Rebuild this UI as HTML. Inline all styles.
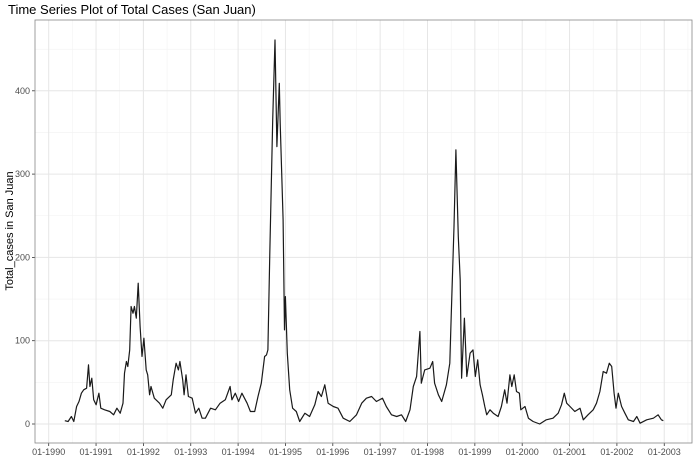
<!DOCTYPE html>
<html><head><meta charset="utf-8">
<style>
html,body{margin:0;padding:0;background:#fff;}
svg{display:block;font-family:"Liberation Sans",sans-serif;}
</style></head>
<body>
<svg id="chart" width="698" height="472" viewBox="0 0 698 472">
<text x="8" y="14" font-size="13" fill="#000">Time Series Plot of Total Cases (San Juan)</text>
<text transform="translate(13,231) rotate(-90)" text-anchor="middle" font-size="11" fill="#000">Total_cases in San Juan</text>
<g id="grid"></g>
<g id="axes"></g>
<path id="series" fill="none" stroke="#1a1a1a" stroke-width="1.2" stroke-linejoin="round"></path>
<rect x="35" y="20" width="657" height="423" fill="none" stroke="#888" stroke-width="0.8"></rect>
</svg>
<script>
const dates = [1990.34,1990.41,1990.48,1990.53,1990.59,1990.64,1990.69,1990.74,1990.8,1990.84,1990.87,1990.91,1990.95,1991.0,1991.06,1991.1,1991.18,1991.29,1991.37,1991.44,1991.51,1991.57,1991.6,1991.64,1991.67,1991.71,1991.74,1991.78,1991.81,1991.85,1991.89,1991.93,1991.97,1992.01,1992.06,1992.09,1992.13,1992.16,1992.23,1992.34,1992.41,1992.48,1992.59,1992.63,1992.69,1992.74,1992.77,1992.83,1992.86,1992.9,1992.95,1993.03,1993.1,1993.17,1993.24,1993.31,1993.42,1993.52,1993.62,1993.73,1993.83,1993.87,1993.94,1994.01,1994.08,1994.19,1994.26,1994.35,1994.42,1994.49,1994.56,1994.6,1994.63,1994.67,1994.73,1994.78,1994.82,1994.87,1994.89,1994.95,1994.98,1995.0,1995.04,1995.09,1995.15,1995.23,1995.3,1995.41,1995.51,1995.62,1995.69,1995.76,1995.83,1995.9,1996.01,1996.11,1996.22,1996.36,1996.5,1996.61,1996.71,1996.82,1996.92,1997.05,1997.13,1997.24,1997.35,1997.45,1997.54,1997.63,1997.7,1997.77,1997.84,1997.87,1997.94,1998.05,1998.11,1998.15,1998.23,1998.3,1998.4,1998.47,1998.5,1998.56,1998.6,1998.65,1998.69,1998.72,1998.78,1998.83,1998.9,1998.96,1999.01,1999.06,1999.11,1999.16,1999.21,1999.25,1999.32,1999.39,1999.49,1999.56,1999.63,1999.68,1999.74,1999.78,1999.83,1999.88,1999.94,1999.97,2000.06,2000.13,2000.23,2000.37,2000.51,2000.65,2000.76,2000.83,2000.89,2000.94,2001.01,2001.11,2001.22,2001.29,2001.39,2001.5,2001.57,2001.64,2001.71,2001.78,2001.84,2001.89,2001.94,2001.98,2002.03,2002.1,2002.17,2002.24,2002.35,2002.42,2002.49,2002.63,2002.77,2002.87,2002.94,2002.98];
const cases = [4,3,9,3,21,27,37,41,43,71,45,55,29,23,37,19,17,15,11,19,13,25,61,75,69,89,141,133,141,127,169,117,81,103,65,59,35,45,31,25,19,29,35,53,73,65,75,53,35,59,33,31,13,19,7,7,19,17,25,29,45,29,37,27,37,25,15,15,33,49,81,83,89,205,365,461,333,409,361,245,113,153,85,41,19,15,3,13,9,23,39,33,47,25,21,19,7,3,11,25,31,33,27,31,21,11,9,11,3,17,45,57,111,49,65,67,75,49,35,27,47,73,129,237,329,225,173,55,127,57,85,89,57,77,47,35,21,11,17,13,9,21,41,25,59,45,59,39,37,17,21,7,3,0,5,7,13,23,37,25,21,15,19,5,11,17,25,39,63,61,73,69,37,19,37,21,13,5,3,9,1,5,7,11,5,4];
const yTicks = [0,100,200,300,400];
const xTickYears = [1990,1991,1992,1993,1994,1995,1996,1997,1998,1999,2000,2001,2002,2003];

const NS="http://www.w3.org/2000/svg";
const L=35,R=692,T=20,B=443;
function xs(yr){return 48.7+(yr-1990)*47.35;}
function ys(v){return 424-v*0.833;}
const grid=document.getElementById('grid'), axes=document.getElementById('axes');
function line(p,x1,y1,x2,y2,c,w){const e=document.createElementNS(NS,'line');e.setAttribute('x1',x1);e.setAttribute('y1',y1);e.setAttribute('x2',x2);e.setAttribute('y2',y2);e.setAttribute('stroke',c);e.setAttribute('stroke-width',w);p.appendChild(e);return e;}
// minor grid
for(let v=50;v<=450;v+=100){const e=line(grid,L,ys(v),R,ys(v),'#f2f2f2',0.6);

}
for(const y of xTickYears){const mx=xs(y+0.5);if(mx<R){const e=line(grid,mx,T,mx,B,'#f2f2f2',0.6);

}}
for(const v of yTicks){const e=line(grid,L,ys(v),R,ys(v),'#e6e6e6',1);


const t=line(axes,L-3,ys(v),L,ys(v),'#333',0.8);


const tx=document.createElementNS(NS,'text');tx.setAttribute('x',L-5);tx.setAttribute('y',ys(v)+3);tx.setAttribute('text-anchor','end');tx.setAttribute('font-size','9');tx.setAttribute('fill','#4d4d4d');tx.textContent=v;


axes.appendChild(tx);}
for(const y of xTickYears){const x=xs(y);
const e=line(grid,x,T,x,B,'#e6e6e6',1);


const t=line(axes,x,B,x,B+3,'#333',0.8);


const tx=document.createElementNS(NS,'text');tx.setAttribute('x',x);tx.setAttribute('y',B+12);tx.setAttribute('text-anchor','middle');tx.setAttribute('font-size','9');tx.setAttribute('fill','#4d4d4d');tx.textContent='01-'+y;


axes.appendChild(tx);}
let d='';
for(let i=0;i<dates.length;i++){d+=(i?'L':'M')+xs(dates[i]).toFixed(1)+','+ys(cases[i]).toFixed(1);}
document.getElementById('series').setAttribute('d',d);
</script>
</body></html>
